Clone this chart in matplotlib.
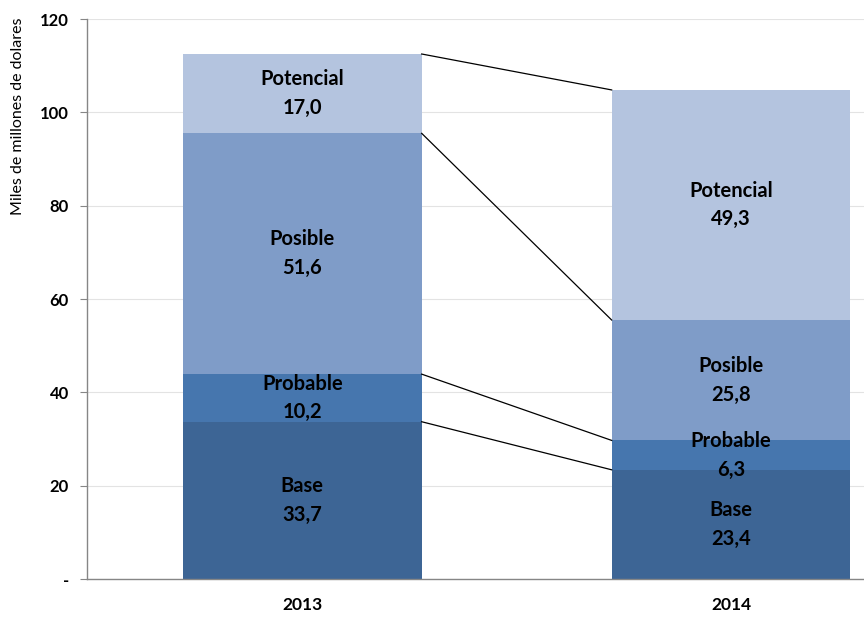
import matplotlib
matplotlib.use("Agg")
import matplotlib.pyplot as plt
import numpy as np

categories = ["2013", "2014"]
series_names = ["Base", "Probable", "Posible", "Potencial"]
base = [33.7, 23.4]
probable = [10.2, 6.3]
posible = [51.6, 25.8]
potencial = [17.0, 49.3]
colors = ["#3d6595", "#4676ae", "#7f9cc8", "#b4c4df"]
yticks = [0, 20, 40, 60, 80, 100, 120]
ytick_labels = ["-", "20", "40", "60", "80", "100", "120"]

plt.rcParams['font.family'] = ['Lato', 'DejaVu Sans']

fig = plt.figure(figsize=(8.64, 6.17), dpi=100)
ax = fig.add_axes([87/864, 1 - 579/617, 1 - 87/864, (579 - 19)/617])

series = [base, probable, posible, potencial]
x = np.arange(len(categories))
width = 0.557
bottom = np.zeros(len(categories))
tops = []
for name, vals, c in zip(series_names, series, colors):
    vals = np.array(vals)
    ax.bar(x, vals, width, bottom=bottom, color=c, edgecolor='none', zorder=2)
    for xi, v, b in zip(x, vals, bottom):
        ax.text(xi, b + v / 2, f"{name}\n{v:.1f}".replace('.', ','),
                ha='center', va='center', fontsize=14.5, fontweight='bold',
                linespacing=1.55, zorder=4)
    bottom = bottom + vals
    tops.append(bottom.copy())

for t in tops:
    ax.plot([x[0] + width / 2, x[1] - width / 2], [t[0], t[1]],
            color='black', lw=0.9, zorder=3)

ax.set_xlim(-0.502, 1.31)
ax.set_ylim(0, 120)
ax.set_yticks(yticks)
ax.set_yticklabels(ytick_labels, fontsize=12, fontweight='bold')
ax.set_xticks(x)
ax.set_xticklabels(categories, fontsize=12.5, fontweight='bold')
ax.tick_params(axis='x', length=0, pad=13)
ax.tick_params(axis='y', length=5, color='#868686', pad=8)
ax.grid(axis='y', color='#e3e3e3', lw=0.8, zorder=0)
for s in ['top', 'right']:
    ax.spines[s].set_visible(False)
for s in ['left', 'bottom']:
    ax.spines[s].set_color('#868686')
    ax.spines[s].set_linewidth(1.0)

fig.text(18/864, 1 - 116/617, "Miles de millones de dolares", rotation=90,
         ha='center', va='center', fontsize=11.5)

fig.savefig("out.png", dpi=100)
